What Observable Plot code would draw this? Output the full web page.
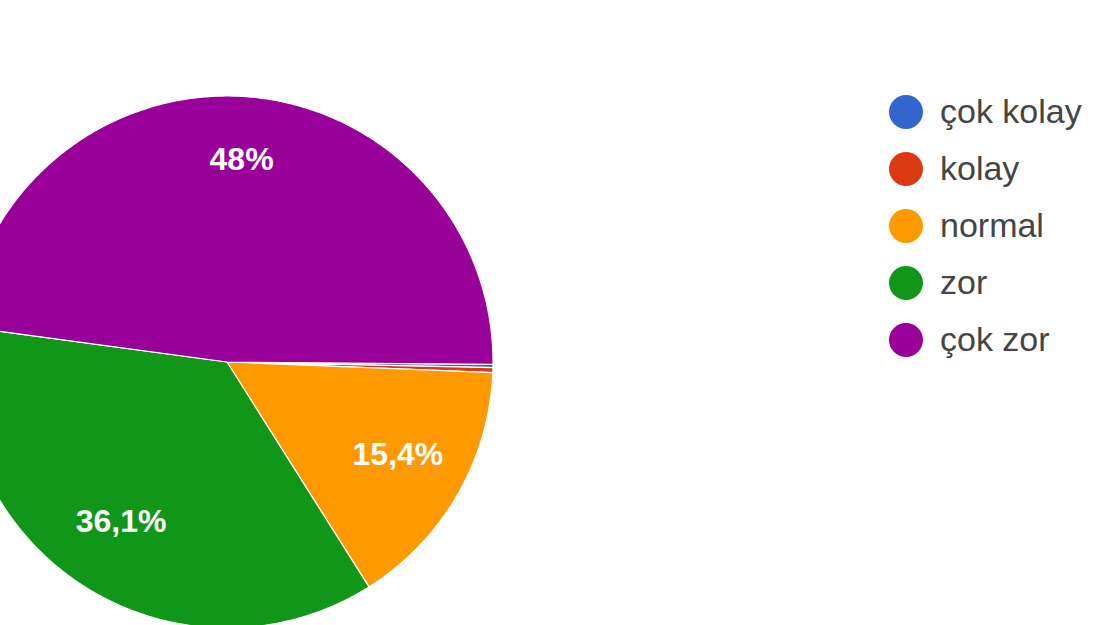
<!DOCTYPE html>
<html>
<head>
<meta charset="utf-8">
<script src="https://cdn.jsdelivr.net/npm/d3@7"></script>
<script src="https://cdn.jsdelivr.net/npm/@observablehq/plot@0.6"></script>
<style>
  html, body { margin: 0; padding: 0; background: #fff; width: 1110px; height: 625px; overflow: hidden; }
  #chart { position: absolute; left: 0; top: 0; }
  #legend { position: absolute; left: 889px; top: 83px; font-family: "Liberation Sans", Arial, sans-serif; }
  .item { display: flex; align-items: center; height: 57px; }
  .sw { width: 34px; height: 34px; border-radius: 50%; margin-right: 17px; flex: none; }
  .lab { font-size: 34px; color: #454545; white-space: nowrap; }
</style>
</head>
<body>
<div id="chart"></div>
<div id="legend"></div>
<script>
// Data
const categories = ["çok kolay", "kolay", "normal", "zor", "çok zor"];
const values = [0.2, 0.3, 15.4, 36.1, 48.0];
const labels = ["0,2%", "0,3%", "15,4%", "36,1%", "48%"];
const colors = ["#3366cc", "#dc3912", "#ff9900", "#109618", "#990099"];

// Layout
const startDeg = 90.5;
const labelRadius = 0.74;

const total = d3.sum(values);
const rad = Math.PI / 180;
const slicePts = [];
const labelPts = [];
let acc = startDeg;
categories.forEach((c, i) => {
  const span = values[i] / total * 360;
  const a0 = acc, a1 = acc + span;
  const n = Math.max(2, Math.ceil(span / 0.5));
  for (let k = 0; k <= n; k++) {
    const a = (a0 + (a1 - a0) * k / n) * rad;
    slicePts.push({cat: c, cx: 0, cy: 0, px: Math.sin(a), py: Math.cos(a)});
  }
  const m = ((a0 + a1) / 2) * rad;
  if (values[i] > 5) labelPts.push({cat: c, label: labels[i], x: labelRadius * Math.sin(m), y: labelRadius * Math.cos(m)});
  acc = a1;
});

const cx = 227, cy = 362, R = 266;
const plot = Plot.plot({
  width: 1110,
  height: 625,
  margin: 0,
  x: {domain: [-1, 1], range: [cx - R, cx + R], axis: null},
  y: {domain: [-1, 1], range: [cy + R, cy - R], axis: null},
  color: {domain: categories, range: colors},
  style: {fontFamily: "'Liberation Sans', Arial, sans-serif", background: "white"},
  marks: [
    Plot.area(slicePts, {x1: "cx", y1: "cy", x2: "px", y2: "py", z: "cat", fill: "cat", stroke: "white", strokeWidth: 1.2, curve: "linear"}),
    Plot.text(labelPts, {x: "x", y: "y", dy: -6, text: "label", fill: "white", fontSize: 32, fontWeight: "bold"})
  ]
});
document.getElementById("chart").appendChild(plot);

const legend = d3.select("#legend");
categories.forEach((c, i) => {
  const it = legend.append("div").attr("class", "item");
  it.append("div").attr("class", "sw").style("background", colors[i]);
  it.append("div").attr("class", "lab").text(c);
});
</script>
</body>
</html>
